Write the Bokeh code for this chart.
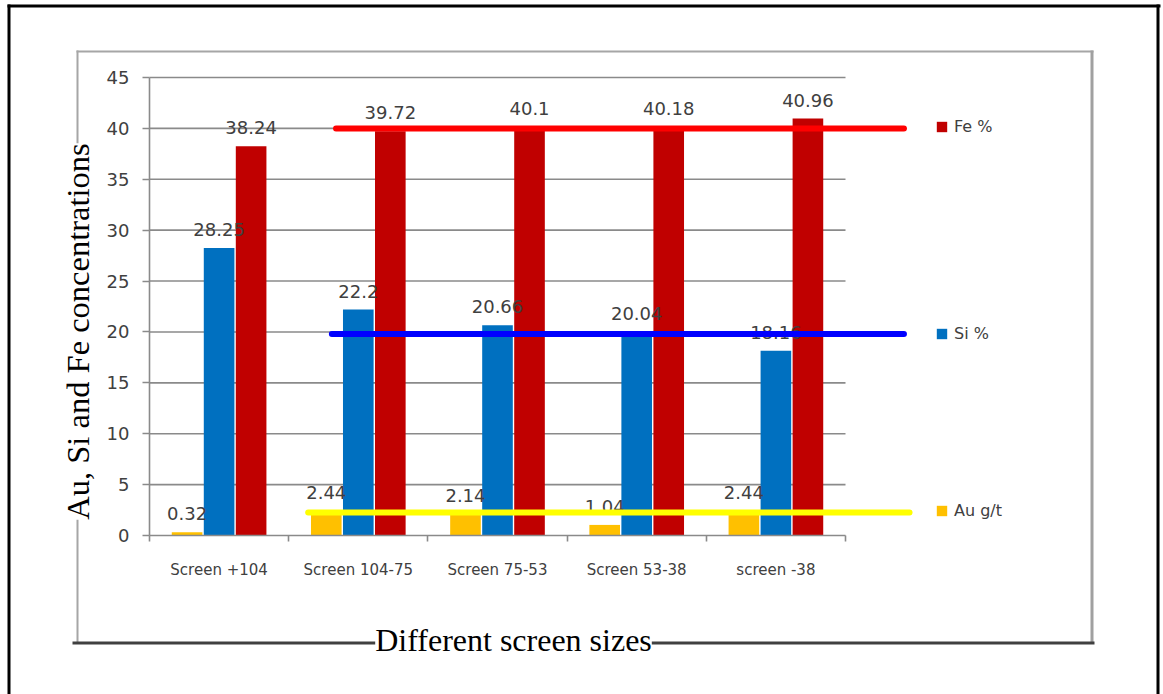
import math

from bokeh.plotting import figure
from bokeh.models import (Range1d, FixedTicker, Legend, LegendItem, BoxAnnotation,
                          Label, ColumnDataSource)
from bokeh.core.properties import value
from bokeh.embed import file_html
from bokeh.resources import INLINE

# ---- data -------------------------------------------------------------
categories = ["Screen +104", "Screen 104-75", "Screen 75-53", "Screen 53-38", "screen -38"]
au_gt = [0.32, 2.44, 2.14, 1.04, 2.44]
si_pct = [28.25, 22.2, 20.66, 20.04, 18.16]
fe_pct = [38.24, 39.72, 40.1, 40.18, 40.96]

series_names = ["Au g/t", "Si %", "Fe %"]
bar_colors = ["#FFC000", "#0070C0", "#C00000"]

# guide lines drawn across the groups (level, start and end in category units)
level_values = [2.25, 19.8, 40.0]
level_from = [1.14, 1.31, 1.34]
level_to = [5.46, 5.42, 5.42]
level_colors = ["#FFFF00", "#0000FF", "#FF0000"]

y_ticks = [0, 5, 10, 15, 20, 25, 30, 35, 40, 45]

# ---- layout -----------------------------------------------------------
W, H = 1163, 694
LEFT, TOP, BASE = 149, 77, 535      # plot-area edges on the canvas
UNIT = 139.2                         # pixels per category
PX_Y = (BASE - TOP) / y_ticks[-1]    # pixels per unit of concentration
GRID = "#8a8a8a"
TEXT = "#404040"
FONT = "DejaVu Sans"

n = len(categories)

# the frame spans the whole canvas; axes are pinned at the data origin
p = figure(width=W, height=H, output_backend="svg", toolbar_location=None,
           x_range=Range1d(-LEFT / UNIT, (W - LEFT) / UNIT),
           y_range=Range1d(-(H - BASE) / PX_Y, y_ticks[-1] + TOP / PX_Y),
           min_border_left=0, min_border_right=0,
           min_border_top=0, min_border_bottom=0)
p.title.visible = False
p.outline_line_color = None
p.background_fill_color = "white"
p.border_fill_color = "white"
p.xgrid.visible = False
p.ygrid.visible = False


def sx(px):
    return px


def sy(py):
    return H - py


# ---- chart frame and page border --------------------------------------
def rule(x0, x1, y0, y1, color):
    p.add_layout(BoxAnnotation(
        left=sx(x0), right=sx(x1), top=sy(y0), bottom=sy(y1),
        left_units="screen", right_units="screen",
        top_units="screen", bottom_units="screen",
        fill_color=color, fill_alpha=1, line_color=None, level="underlay"))


rule(7, 1160, 4, 7, "black")
rule(7, 10, 4, H, "black")
rule(1156, 1159, 4, H, "black")

rule(76, 1093, 50, 52, "#a6a6a6")
rule(76, 78, 50, 643, "#a6a6a6")
rule(1090, 1093, 50, 643, "#a0a0a0")
rule(72, 1094, 641, 644, "#404040")

# horizontal gridlines limited to the category span
gl = y_ticks[1:]
p.segment(x0=[0] * len(gl), x1=[n] * len(gl), y0=gl, y1=gl,
          line_color=GRID, line_width=1.6)

# ---- grouped bars -----------------------------------------------------
offsets = [-0.23, 0.0, 0.23]
bar_w = 0.22
bar_renderers = []
label_sources = []
for vals, name, color, off in zip([au_gt, si_pct, fe_pct], series_names, bar_colors, offsets):
    src = ColumnDataSource(dict(
        x=[i + 0.5 + off for i in range(n)],
        top=vals,
        label=[f"{v:g}" for v in vals],
    ))
    r = p.vbar(x="x", top="top", bottom=0, width=bar_w, source=src,
               fill_color=color, line_color=None)
    bar_renderers.append(r)
    label_sources.append(src)

# value labels
for src in label_sources:
    p.text(x="x", y="top", text="label", source=src,
           text_align="center", text_baseline="bottom", y_offset=-12,
           text_font=value(FONT), text_font_size="18px", text_color=TEXT)

# guide lines, drawn over bars and labels
p.segment(x0=level_from, x1=level_to, y0=level_values, y1=level_values,
          line_color=level_colors, line_width=6, line_cap="round")

# ---- axes -------------------------------------------------------------
xa = p.xaxis[0]
xa.fixed_location = 0
xa.ticker = FixedTicker(ticks=[i + 0.5 for i in range(n)], minor_ticks=list(range(n + 1)))
xa.bounds = (0, n)
xa.major_label_overrides = {i + 0.5: c for i, c in enumerate(categories)}
xa.major_tick_line_color = None
xa.major_tick_out = 6
xa.minor_tick_line_color = GRID
xa.minor_tick_line_width = 1.6
xa.minor_tick_out = 6
xa.minor_tick_in = 0
xa.axis_line_color = GRID
xa.axis_line_width = 1.6
xa.major_label_text_font = FONT
xa.major_label_text_font_size = "15px"
xa.major_label_text_color = TEXT
xa.major_label_standoff = 19

ya = p.yaxis[0]
ya.fixed_location = 0
ya.ticker = FixedTicker(ticks=y_ticks, minor_ticks=[])
ya.bounds = (0, y_ticks[-1])
ya.major_tick_line_color = GRID
ya.major_tick_line_width = 1.6
ya.major_tick_out = 7
ya.major_tick_in = 0
ya.minor_tick_line_color = None
ya.axis_line_color = GRID
ya.axis_line_width = 1.6
ya.major_label_text_font = FONT
ya.major_label_text_font_size = "18px"
ya.major_label_text_color = TEXT
ya.major_label_standoff = 13

# ---- legends, one entry beside each guide line ------------------------
legend_rows = [510.5, 333, 126.5]     # canvas y of each entry
for r, name, cy in zip(bar_renderers, series_names, legend_rows):
    lg = Legend(items=[LegendItem(label=name, renderers=[r])],
                location=(sx(935), sy(cy) - 9.5),
                padding=0, margin=0, spacing=0,
                border_line_color=None, background_fill_alpha=0,
                glyph_width=13, glyph_height=13, label_standoff=6,
                label_text_font=FONT, label_text_font_size="16px",
                label_text_color=TEXT)
    p.add_layout(lg)

# axis titles sit on the frame lines with a white backing
p.add_layout(Label(x=sx(513), y=sy(639), x_units="screen", y_units="screen",
                   text="Different screen sizes", text_align="center",
                   text_baseline="middle", text_font="Liberation Serif",
                   text_font_size="32px", text_color="black",
                   background_fill_color="white"))
p.add_layout(Label(x=sx(77), y=sy(331), x_units="screen", y_units="screen",
                   angle=math.pi / 2,
                   text="Au, Si and Fe concentrations", text_align="center",
                   text_baseline="middle", text_font="Liberation Serif",
                   text_font_size="32.5px", text_color="black",
                   background_fill_color="white"))

open("out.html", "w").write(file_html(p, INLINE))
